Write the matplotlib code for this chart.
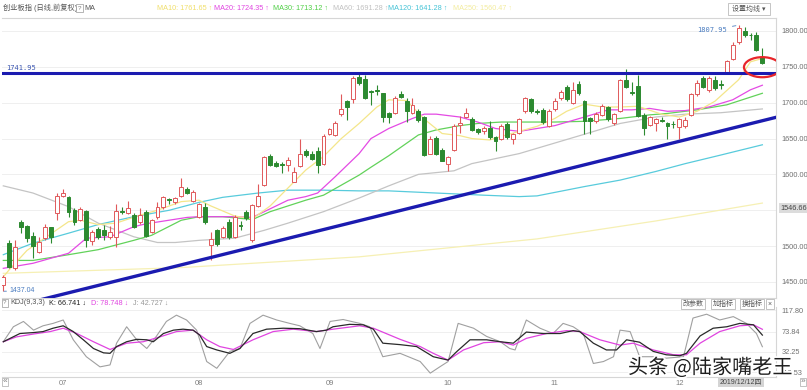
import numpy as np
import matplotlib
matplotlib.use("Agg")
import matplotlib.pyplot as plt
from matplotlib.patches import Ellipse, Rectangle
import matplotlib.patheffects as pe

plt.rcParams['font.family'] = ['Liberation Sans', 'Noto Sans CJK SC', 'DejaVu Sans']

# daily candles (index 0 = first bar on screen)
opens = [1446, 1505, 1469, 1533, 1528, 1514, 1492, 1511, 1526, 1546,
         1570, 1568, 1550, 1537, 1549, 1507, 1524, 1523, 1513, 1513,
         1549, 1546, 1543, 1533, 1547, 1520, 1540, 1554, 1565, 1561,
         1570, 1579, 1563, 1541, 1555, 1502, 1522, 1513, 1534, 1513,
         1529, 1548, 1508, 1556, 1585, 1626, 1616, 1614, 1613, 1590,
         1612, 1633, 1628, 1632, 1615, 1657, 1655, 1684, 1702, 1705,
         1736, 1733, 1716, 1717, 1713, 1685, 1686, 1712, 1702, 1686,
         1688, 1680, 1629, 1651, 1634, 1614, 1634, 1669, 1680, 1677,
         1663, 1660, 1664, 1652, 1650, 1670, 1650, 1658, 1688, 1705,
         1688, 1690, 1668, 1691, 1706, 1722, 1700, 1726, 1702, 1678,
         1675, 1683, 1694, 1672, 1689, 1732, 1715, 1723, 1683, 1669,
         1671, 1676, 1671, 1670.5, 1666, 1667, 1683, 1712, 1734, 1717,
         1732, 1726, 1741, 1761, 1784, 1800, 1795, 1794, 1764]
highs = [1460, 1508, 1508, 1536, 1530, 1520, 1513, 1531, 1527, 1574,
         1579, 1570, 1553, 1555, 1551, 1522, 1526, 1530, 1528, 1559,
         1555, 1563, 1546, 1553, 1550, 1538, 1562, 1570, 1567, 1569,
         1595, 1582, 1578, 1560, 1560, 1520, 1524, 1528, 1538, 1543,
         1535, 1551, 1559, 1587, 1626, 1629, 1618, 1617, 1624, 1610,
         1649, 1636, 1632, 1638, 1656, 1665, 1675, 1712, 1704, 1737,
         1740, 1739, 1717, 1725, 1714, 1687, 1709, 1716, 1706, 1707,
         1691, 1682, 1653, 1653, 1637, 1626, 1670, 1681, 1692, 1680,
         1665, 1668, 1675, 1654, 1670, 1673, 1658, 1679, 1708, 1707,
         1691, 1692, 1691, 1706, 1718, 1724, 1729, 1730, 1704, 1680,
         1687, 1698, 1696, 1686, 1733, 1747, 1729, 1739, 1685, 1682,
         1679, 1680, 1673, 1674, 1679, 1680, 1714, 1731, 1737, 1737,
         1737, 1731, 1760, 1784, 1807.95, 1806, 1797, 1798, 1776]
lows = [1437.04, 1469, 1467, 1518, 1506, 1483, 1490, 1508, 1504, 1537,
        1568, 1541, 1529, 1535, 1499, 1501, 1510, 1508, 1510, 1499,
        1545, 1545, 1525, 1531, 1512, 1518, 1538, 1552, 1558, 1559,
        1569, 1572, 1561, 1539, 1531, 1481, 1500, 1511, 1510, 1511,
        1522, 1537, 1506, 1555, 1584, 1612, 1610, 1602, 1605, 1589,
        1610, 1624, 1620, 1602, 1613, 1655, 1653, 1682, 1676, 1700,
        1725, 1705, 1697, 1711, 1673, 1672, 1684, 1706, 1673, 1684,
        1673, 1626, 1628, 1627, 1618, 1605, 1633, 1658, 1678, 1660,
        1657, 1656, 1650, 1632, 1648, 1649, 1643, 1656, 1686, 1686,
        1684, 1670, 1666, 1689, 1704, 1702, 1698, 1711, 1657, 1657,
        1672, 1681, 1675, 1669, 1687, 1720, 1711, 1680, 1655, 1667,
        1660, 1673, 1650, 1664, 1650, 1665, 1681, 1710, 1720, 1715,
        1717, 1719, 1740, 1759, 1782, 1791, 1787, 1772, 1754]
closes = [1457, 1471, 1499, 1526, 1511, 1500, 1506, 1526, 1513, 1570,
          1574, 1547, 1534, 1552, 1508, 1519, 1512, 1516, 1520, 1549,
          1548, 1553, 1527, 1544, 1514, 1536, 1555, 1568, 1564, 1567,
          1582, 1574, 1575, 1558, 1534, 1510, 1503, 1525, 1513, 1541,
          1528, 1539, 1557, 1570, 1624, 1613, 1612, 1613, 1620, 1603,
          1629, 1627, 1622, 1613, 1654, 1663, 1672, 1691, 1694, 1735,
          1727, 1706, 1715, 1716, 1680, 1680, 1707, 1708, 1688, 1697,
          1676, 1627, 1649, 1629, 1619, 1624, 1668, 1671, 1685, 1662,
          1659, 1664, 1652, 1647, 1668, 1652, 1656, 1677, 1706, 1688,
          1687, 1673, 1689, 1702, 1715, 1705, 1718, 1713, 1675, 1674,
          1684, 1695, 1677, 1684, 1731, 1722, 1714, 1681, 1664, 1680,
          1677, 1675, 1667, 1670, 1677, 1676, 1712, 1728, 1722, 1735,
          1720, 1725, 1758, 1781, 1804, 1795, 1794, 1774, 1755]

# moving averages (bar index, value)
ma10_idx = [0, 1, 4, 11, 13, 16, 19, 23, 26, 30, 33, 35, 39, 42, 45, 48, 51, 54, 57, 60,
            63, 65, 68, 71, 74, 77, 79, 82, 84, 87, 90, 93, 95, 98, 101, 104, 107, 111,
            114, 117, 120, 124, 126, 128]
ma10_val = [1457, 1467, 1494, 1534, 1536, 1530, 1532, 1543, 1550, 1562, 1564, 1556, 1542,
            1538, 1556, 1581, 1606, 1625, 1650, 1671, 1694, 1704, 1703, 1677, 1657, 1654,
            1650, 1648, 1653, 1660, 1667, 1678, 1688, 1698, 1694, 1694, 1695, 1684, 1680,
            1688, 1702, 1732, 1757, 1761.65]
ma20_idx = [0, 5, 11, 14, 18, 22, 24, 31, 33, 39, 42, 45, 48, 51, 53, 56, 60, 62, 65, 69,
            71, 73, 77, 80, 83, 87, 93, 98, 102, 106, 109, 112, 115, 119, 123, 126, 128]
ma20_val = [1469, 1476, 1490, 1511, 1513, 1527, 1531, 1540, 1541, 1541, 1540, 1552, 1564,
            1569, 1574, 1597, 1629, 1650, 1664, 1678, 1684, 1684, 1680, 1673, 1664, 1660,
            1668, 1680, 1690, 1690, 1692, 1688, 1689, 1694, 1704, 1718, 1724.35]
ma30_idx = [0, 5, 11, 16, 22, 25, 30, 33, 37, 42, 45, 51, 54, 57, 60, 62, 65, 70, 73, 77,
            80, 84, 87, 93, 98, 104, 109, 112, 117, 122, 128]
ma30_val = [1480, 1480, 1488, 1495, 1508, 1515, 1536, 1541, 1541, 1537, 1548, 1564, 1571,
            1585, 1599, 1610, 1626, 1655, 1662, 1668, 1671, 1673, 1673, 1673, 1674, 1678,
            1683, 1685, 1690, 1697, 1713.12]
ma60_idx = [0, 5, 11, 16, 22, 26, 29, 33, 39, 44, 48, 54, 60, 65, 70, 76, 79, 87, 98, 104,
            110, 115, 121, 128]
ma60_val = [1584, 1574, 1555, 1532, 1513, 1505, 1505, 1508, 1511, 1522, 1532, 1548, 1567,
            1584, 1600, 1605, 1615, 1629, 1656, 1671, 1680, 1684, 1686, 1691.28]
ma120_idx = [0, 5, 11, 16, 22, 28, 33, 37, 43, 48, 54, 60, 65, 73, 81, 87, 90, 98, 104,
             110, 115, 121, 128]
ma120_val = [1488, 1504, 1518, 1530, 1541, 1550, 1561, 1568, 1574, 1578, 1578, 1577, 1577,
             1574, 1571, 1569, 1570, 1583, 1592, 1604, 1615, 1627, 1641.28]
ma250_idx = [0, 30, 60, 90, 110, 128]
ma250_val = [1462, 1470, 1485, 1510, 1535, 1560]

# KDJ(9,3,3)
k_idx = [0, 2.8, 5.1, 6.7, 8.4, 10.1, 11.8, 13.5, 15.2, 16.9, 18, 19.1, 20.8, 22.5, 24.2,
         25.3, 27, 28.7, 30.3, 32, 33.1, 34.3, 36, 38.2, 39.9, 42.1, 44.4, 47.2, 50, 52.8,
         54.5, 55.6, 58.4, 60.7, 62.4, 64, 66.9, 69.7, 72.5, 75, 76.5, 78.7, 81.5, 83.8, 86,
         88.2, 91.1, 93.9, 96.1, 97.2, 99.5, 101.7, 103.4, 105.1, 107.3, 109.6, 111.8, 114.1,
         115.2, 117.5, 119.7, 122, 124.2, 126.5, 128]
k_val = [53, 70, 72, 74, 81, 86, 74, 57, 39, 30, 29, 43, 53, 58, 57, 53, 70, 77, 79, 77,
         67, 43, 36, 29, 39, 70, 79, 81, 80, 74, 77, 84, 89, 88, 79, 50, 47, 43, 22, 15,
         33, 57, 57, 53, 50, 73, 70, 70, 76, 74, 50, 36, 36, 57, 52, 33, 26, 24, 29, 65,
         81, 84, 91, 88, 66.741]
d_idx = [0, 2.2, 5.1, 7.9, 10.1, 12.4, 15.2, 18, 20.8, 23.6, 26.4, 29.2, 32, 34.3, 36.5,
         38.8, 42.1, 45.5, 48.9, 52.8, 55.6, 60.1, 62.4, 66.9, 70.3, 72.5, 75, 77.6, 81,
         83.8, 86, 88.2, 91.6, 95, 97.2, 100.6, 104, 106.2, 109.6, 113, 115.2, 117.5, 120.8,
         124.2, 126.5, 128]
d_val = [53, 63, 69, 74, 81, 70, 53, 37, 50, 53, 63, 74, 77, 57, 43, 37, 57, 74, 79, 74,
         79, 86, 81, 58, 43, 29, 15, 36, 51, 53, 46, 60, 70, 76, 74, 57, 46, 50, 36, 26,
         26, 50, 74, 86, 88, 78.748]
j_idx = [0, 1.7, 3.4, 5.1, 6.7, 8.4, 10.1, 11.8, 14, 16.3, 18, 19.1, 20.8, 22.5, 24.2,
         25.8, 27.5, 29.2, 30.9, 32.6, 34.3, 36, 38.2, 39.9, 41.6, 43.8, 46.1, 48.3, 50,
         52.2, 53.4, 55.1, 57.3, 60.1, 61.8, 64, 66.9, 70.3, 72, 73.6, 75, 76.7, 79.3, 81.5,
         83.8, 85.4, 86.3, 88.2, 90.5, 92.7, 94.4, 96.1, 97.8, 99.5, 101.2, 102.9, 104,
         105.7, 107.3, 109.6, 111.8, 114.7, 116.3, 118.6, 120.8, 123.1, 125.3, 127, 128]
j_val = [53, 84, 95, 77, 86, 91, 98, 57, 22, 1, 5, 50, 84, 57, 39, 64, 95, 108, 98, 77,
         12, -2, 33, 39, 91, 108, 98, 91, 86, 70, 39, 95, 99, 91, 84, 22, 29, 12, -12, 1,
         12, 91, 81, 64, 53, 39, 36, 98, 81, 70, 91, 84, 70, 8, 12, 22, 77, 74, 22, 22,
         19, 22, 102, 110, 98, 105, 91, 70, 42.727]

# hand-drawn lines on the chart
resist_level = 1741.95
support_idx = [6.2, 131]
support_val = [1425, 1681]

month_pos = [10, 33, 55, 75, 93, 114]
month_lab = ['07', '08', '09', '10', '11', '12']
price_grid = [1450, 1500, 1550, 1600, 1650, 1700, 1750, 1800]
price_ticks = [1450, 1500, 1600, 1650, 1700, 1750, 1800]
kdj_ticks = [-10.53, 32.25, 73.84, 117.80]

UP = '#e0595b'
DOWN = '#2c8a30'
W, H = 807, 390


def fx(px):
    return px / W


def fy(py):
    return 1 - py / H


fig = plt.figure(figsize=(W / 100, H / 100), dpi=100)
fig.patch.set_facecolor('white')

# ---- main price panel
ax = fig.add_axes([fx(2), fy(298), (776 - 2) / W, (298 - 18) / H])
ax.set_xlim(-0.22, 130.3)
ax.set_ylim(1427.6, 1818.1)

for y in price_grid:
    ax.axhline(y, color='#efefef', lw=0.7, zorder=0)

ax.plot(ma250_idx, ma250_val, color='#f6f0b4', lw=0.9, zorder=1)
ax.plot(ma120_idx, ma120_val, color='#58cbdc', lw=0.9, zorder=1)
ax.plot(ma60_idx, ma60_val, color='#c4c4c4', lw=0.9, zorder=1)
ax.plot(ma30_idx, ma30_val, color='#62d25a', lw=0.9, zorder=1)
ax.plot(ma20_idx, ma20_val, color='#e44ae4', lw=0.9, zorder=1)
ax.plot(ma10_idx, ma10_val, color='#f4e68a', lw=0.9, zorder=1)

o = np.array(opens, dtype=float)
c = np.array(closes, dtype=float)
hi = np.array(highs, dtype=float)
lo = np.array(lows, dtype=float)
xs = np.arange(len(c))
up = c >= o
col = np.where(up, UP, DOWN)
ax.vlines(xs, lo, hi, colors=col, lw=0.8, zorder=3)
ax.bar(xs, np.maximum(np.abs(c - o), 0.9), bottom=np.minimum(o, c), width=0.66,
       color=np.where(up, 'white', DOWN), edgecolor=col, linewidth=0.7, zorder=4)

ax.axhline(resist_level, color='#1b1bb0', lw=2.2, zorder=5)
ax.plot(support_idx, support_val, color='#1b1bb0', lw=2.4, zorder=5, solid_capstyle='butt')
ax.add_patch(Ellipse((128, 1749.5), 6.2, 28, fill=False, edgecolor='#e8262a', lw=1.6, zorder=6))

ax.text(0.5, 1749, '1741.95', fontsize=5, color='#3a55b0', family='DejaVu Sans Mono', va='center')
ax.annotate('1437.04', xy=(0.1, 1437.04), xytext=(1.0, 1437.5), fontsize=5, color='#4a7cc0',
            va='center', arrowprops=dict(arrowstyle='-', color='#4a7cc0', lw=0.6))
ax.annotate('1807.95', xy=(124, 1807.95), xytext=(117, 1802), fontsize=5, color='#4a7cc0',
            va='center', family='DejaVu Sans Mono',
            arrowprops=dict(arrowstyle='-', color='#4a7cc0', lw=0.6))

ax.set_xticks([])
ax.set_yticks(price_ticks)
ax.set_yticklabels(['%.2f' % v for v in price_ticks])
ax.yaxis.tick_right()
ax.tick_params(axis='y', length=0, pad=4, labelsize=5.3, labelcolor='#707070')
ax.spines['left'].set_visible(False)
for s in ['top', 'bottom', 'right']:
    ax.spines[s].set_color('#d6d6d6')
    ax.spines[s].set_linewidth(0.8)

# current price tag on the axis
fig.text(fx(780), fy(208), '1546.66', fontsize=5.3, color='#444444', va='center',
         bbox=dict(boxstyle='square,pad=0.15', fc='#dcdcdc', ec='none'))

# ---- KDJ panel
kax = fig.add_axes([fx(2), fy(377), (776 - 2) / W, (377 - 307) / H])
kax.set_xlim(-0.22, 130.3)
kax.set_ylim(-20.0, 124.9)
for y in kdj_ticks:
    kax.axhline(y, color='#efefef', lw=0.7, zorder=0)
kax.plot(j_idx, j_val, color='#a0a0a0', lw=0.8)
kax.plot(d_idx, d_val, color='#e044e0', lw=0.9)
kax.plot(k_idx, k_val, color='#2a2a2a', lw=0.9)
kax.set_yticks(kdj_ticks)
kax.set_yticklabels(['%.2f' % v for v in kdj_ticks])
kax.yaxis.tick_right()
kax.tick_params(axis='y', length=0, pad=4, labelsize=5.3, labelcolor='#707070')
kax.set_xticks(month_pos)
kax.set_xticklabels(month_lab)
kax.tick_params(axis='x', length=0, pad=2, labelsize=5.5, labelcolor='#808080')
kax.spines['left'].set_visible(False)
kax.spines['top'].set_visible(False)
for s in ['bottom', 'right']:
    kax.spines[s].set_color('#d6d6d6')
    kax.spines[s].set_linewidth(0.8)

# ---- header texts
ty = fy(8)
fig.text(fx(3), ty, '创业板指 (日线,前复权)', fontsize=5.2, color='#555555', va='center')
fig.text(fx(79.5), ty, '?', fontsize=4.6, color='#777777', va='center', ha='center',
         bbox=dict(boxstyle='square,pad=0.2', fc='white', ec='#999999', lw=0.5))
fig.text(fx(84), ty, 'MA', fontsize=5.2, color='#555555', va='center')
legend = [(157, 'MA10: 1761.65 ↑', '#f0df6a'), (214, 'MA20: 1724.35 ↑', '#e044e0'),
          (273, 'MA30: 1713.12 ↑', '#4fcf45'), (333, 'MA60: 1691.28 ↑', '#c0c0c0'),
          (388, 'MA120: 1641.28 ↑', '#45c3d6'), (453, 'MA250: 1560.47 ↑', '#f3ec9e')]
for px, s, cc in legend:
    fig.text(fx(px), ty, s, fontsize=5.2, color=cc, va='center')
fig.patches.append(Rectangle((fx(728), fy(15)), 42 / W, 12 / H, transform=fig.transFigure,
                             fc='white', ec='#bbbbbb', lw=0.6))
fig.text(fx(749), fy(9), '设置均线 ▾', fontsize=5, color='#555555', va='center', ha='center')

ky = fy(303)
fig.text(fx(5), ky, '?', fontsize=4.6, color='#777777', va='center', ha='center',
         bbox=dict(boxstyle='square,pad=0.2', fc='white', ec='#999999', lw=0.5))
fig.text(fx(10), ky, 'KDJ(9,3,3)', fontsize=5.2, color='#555555', va='center')
fig.text(fx(49), ky, 'K: 66.741 ↓', fontsize=5.2, color='#222222', va='center')
fig.text(fx(91), ky, 'D: 78.748 ↓', fontsize=5.2, color='#e044e0', va='center')
fig.text(fx(133), ky, 'J: 42.727 ↓', fontsize=5.2, color='#999999', va='center')
for px, s in [(693, '改参数'), (723, '加指标'), (752, '换指标'), (770, '×')]:
    fig.text(fx(px), fy(304), s, fontsize=5, color='#555555', va='center', ha='center',
             bbox=dict(boxstyle='square,pad=0.25', fc='white', ec='#aaaaaa', lw=0.5))

# ---- bottom bar
fig.text(fx(5), fy(382), '«', fontsize=6, color='#777777', va='center', ha='center',
         bbox=dict(boxstyle='square,pad=0.1', fc='white', ec='#aaaaaa', lw=0.5))
fig.text(fx(803), fy(382), '»', fontsize=6, color='#777777', va='center', ha='center',
         bbox=dict(boxstyle='square,pad=0.1', fc='white', ec='#aaaaaa', lw=0.5))
fig.text(fx(741), fy(382), '2019/12/12四', fontsize=5, color='#444444', va='center', ha='center',
         bbox=dict(boxstyle='square,pad=0.2', fc='#d4d4d4', ec='none'))

# watermark (covers part of the lowest KDJ label, as in the screenshot)
fig.text(fx(628), fy(368), '头条 @陆家嘴老王', fontsize=14.5, color='#1e1e1e', va='center',
         family=['Noto Sans CJK SC', 'DejaVu Sans'],
         path_effects=[pe.withStroke(linewidth=2.5, foreground='white')])

fig.savefig('out.png', dpi=100)
